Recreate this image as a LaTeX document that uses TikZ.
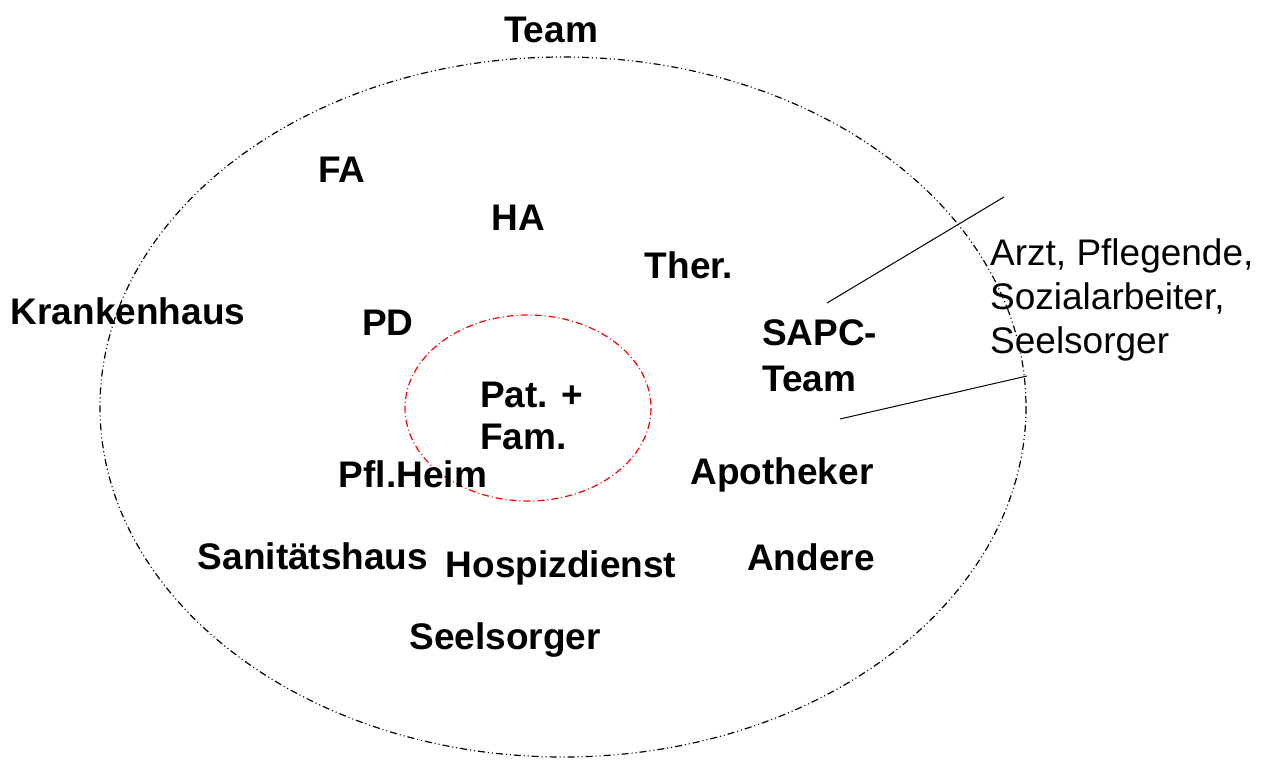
\documentclass[tikz,border=0pt]{standalone}
\usepackage{fontspec}
\setmainfont{Liberation Sans}
\tikzset{
    lbl/.style={inner sep=0pt, font=\fontsize{37}{44}\selectfont\bfseries},
    note/.style={inner sep=0pt, align=left, font=\fontsize{37}{44}\selectfont},
    dashdotdot/.style={dash pattern=on 7pt off 3pt on 1pt off 3pt on 1pt off 3pt},
    dashdot/.style={dash pattern=on 7pt off 3pt on 1pt off 3pt}
}

\begin{document}
\begin{tikzpicture}[x=1pt,y=-1pt]
    \useasboundingbox (0,0) rectangle (1269,760);

    % circles
    \draw[dashdotdot, line width=1.2pt] (563,407) ellipse [x radius=463, y radius=350];
    \draw[dashdot, red, line width=1.2pt] (528,408) ellipse [x radius=123, y radius=93];

    \node[lbl] (team) at (551,30) {Team};
    \node[lbl] (fa) at (342,170) {FA};
    \node[lbl] (ha) at (518,218) {HA};
    \node[lbl] (ther) at (689,265) {Ther.};
    \node[lbl] (kh) at (128,311) {Krankenhaus};
    \node[lbl] (pd) at (388,323) {PD};
    \node[lbl, align=left, anchor=west, font=\fontsize{37}{46}\selectfont\bfseries] (sapc) at (762,356) {SAPC-\\Team};
    \node[lbl, align=left, anchor=west, font=\fontsize{37}{42}\selectfont\bfseries] (pat) at (480,416) {Pat. +\\Fam.};
    \node[lbl] (heim) at (413,474) {Pfl.Heim};
    \node[lbl] (apo) at (782,475) {Apotheker};
    \node[lbl] (sani) at (313,556) {Sanitätshaus};
    \node[lbl] (hospiz) at (561,568) {Hospizdienst};
    \node[lbl] (andere) at (811,557) {Andere};
    \node[lbl] (seel) at (505,640) {Seelsorger};

    \node[note, anchor=west] (berufe) at (990,300) {Arzt, Pflegende,\\Sozialarbeiter,\\Seelsorger};

    % pointer lines
    \coordinate (p1a) at (827,303);
    \coordinate (p1b) at (1004,197);
    \coordinate (p2a) at (840,419);
    \coordinate (p2b) at (1027,376);
    \draw[line width=1pt] (p1a) -- (p1b);
    \draw[line width=1pt] (p2a) -- (p2b);

\end{tikzpicture}
\end{document}
